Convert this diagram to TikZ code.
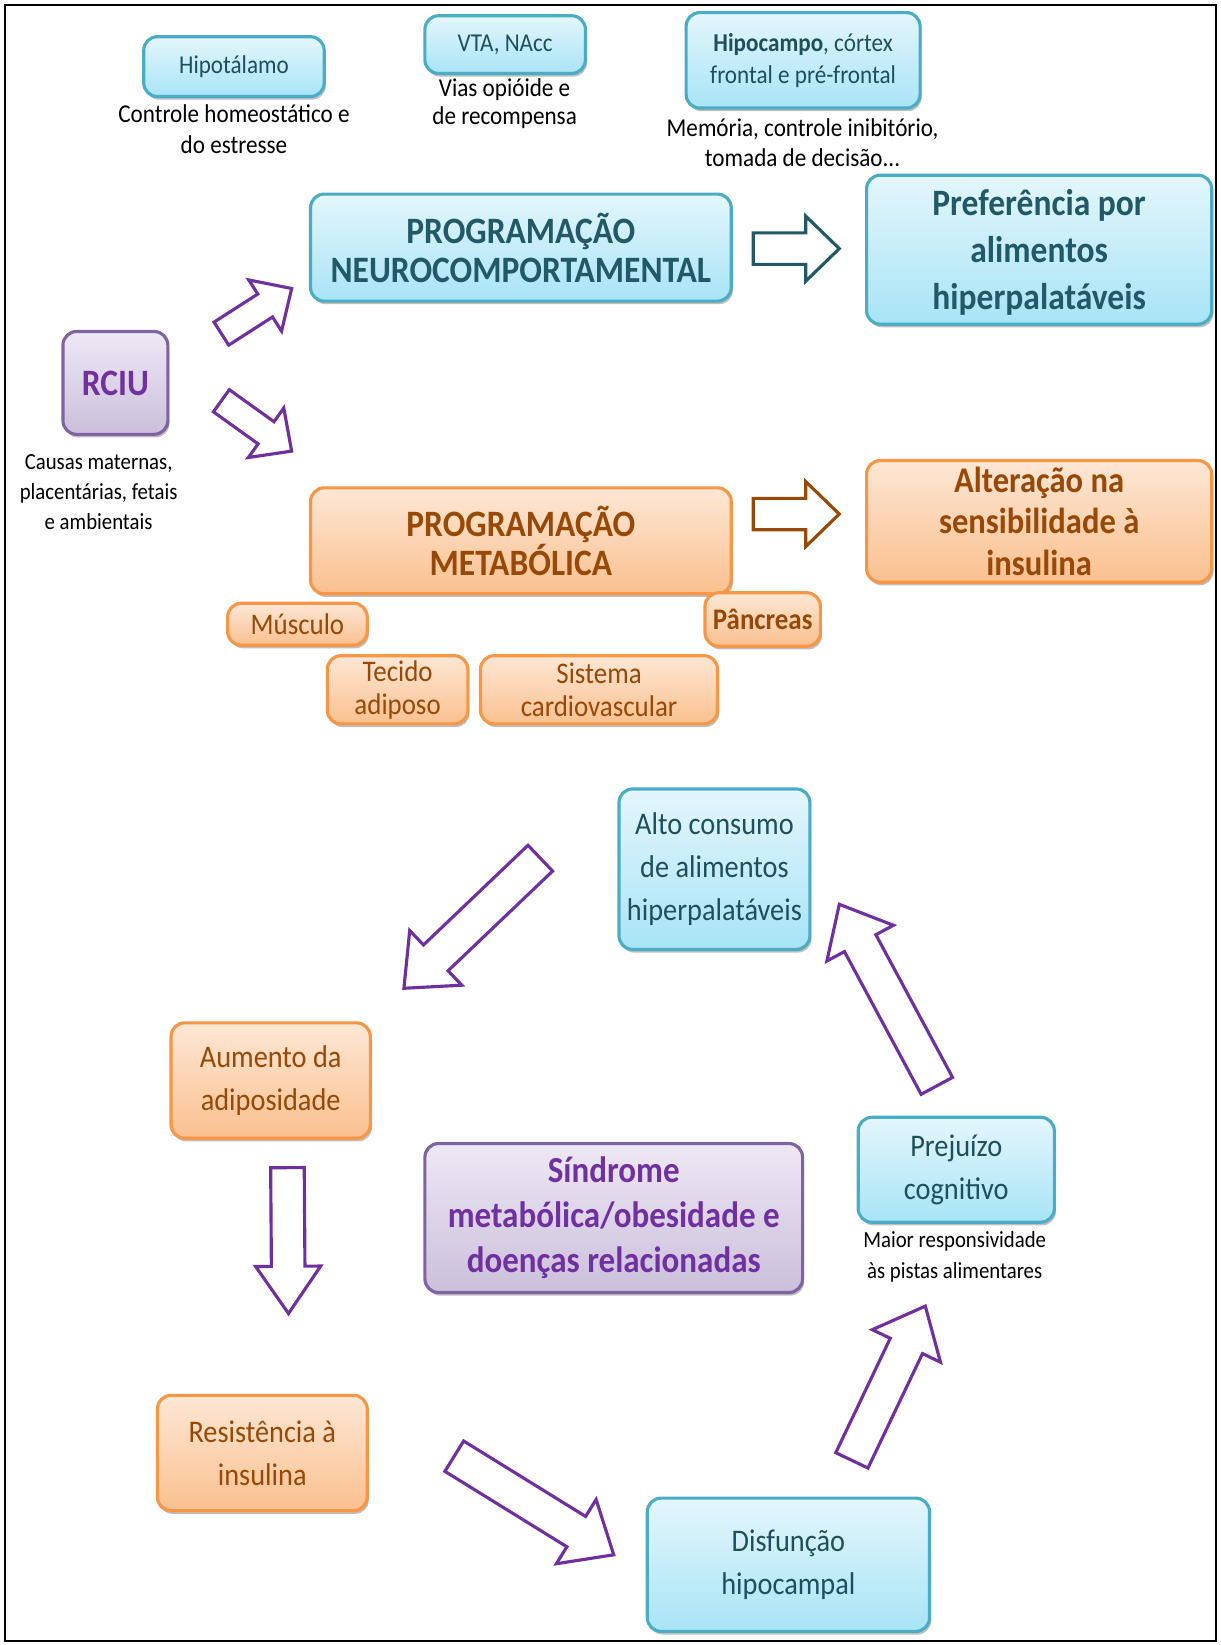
\documentclass[tikz,border=0pt]{standalone}
\usepackage{fontspec}
\setmainfont{Carlito}[FakeStretch=0.9]
\usetikzlibrary{calc,shadows}
\definecolor{bluebd}{HTML}{4BACC6}
\definecolor{bluetop}{HTML}{E4F6FC}
\definecolor{bluebot}{HTML}{A8E4F6}
\definecolor{bluetxt}{HTML}{1F4F5C}
\definecolor{orbd}{HTML}{F79646}
\definecolor{ortop}{HTML}{FDE7D5}
\definecolor{orbot}{HTML}{FAC08F}
\definecolor{ortxt}{HTML}{984807}
\definecolor{purbd}{HTML}{8064A2}
\definecolor{purtop}{HTML}{EEE8F5}
\definecolor{purbot}{HTML}{CBBFDB}
\definecolor{purtxt}{HTML}{7030A0}
\definecolor{arrpur}{HTML}{7030A0}
\definecolor{arrteal}{HTML}{215967}
\definecolor{arrbrown}{HTML}{984807}
\newcommand\blkarrow[6]{%
  \draw[#1] let \p1=($(#3)-(#2)$), \n1={atan2(\y1,\x1)}, \n2={veclen(\x1,\y1)} in
   [shift={(#2)}, rotate=\n1]
   (0,#4) -- (\n2-#6,#4) -- (\n2-#6,#5) -- (\n2,0) -- (\n2-#6,-#5) -- (\n2-#6,-#4) -- (0,-#4) -- cycle;}
\tikzset{
  boxbase/.style={line width=3pt, rounded corners=13pt, align=center, inner sep=0pt,
     drop shadow={shadow xshift=1.5pt, shadow yshift=-3pt, opacity=0.25, fill=black}},
  bluebox/.style={boxbase, draw=bluebd, top color=bluetop, bottom color=bluebot, text=bluetxt},
  orbox/.style={boxbase, draw=orbd, top color=ortop, bottom color=orbot, text=ortxt},
  purbox/.style={boxbase, draw=purbd, top color=purtop, bottom color=purbot, text=purtxt},
  small/.style={font=\fontsize{24.5}{31}\selectfont},
  orsmall/.style={font=\fontsize{28.5}{31}\selectfont},
  caption/.style={align=center, font=\fontsize{24.5}{29}\selectfont, text=black},
  big/.style={font=\fontsize{35.5}{37}\selectfont\bfseries},
  cyc/.style={font=\fontsize{30}{41}\selectfont},
  arrowline/.style={line width=3pt, line join=miter, fill=white},
  purarrow/.style={arrowline, draw=arrpur},
}
\begin{document}
\begin{tikzpicture}[x=1pt,y=-1pt]
\useasboundingbox (0,0) rectangle (1163,1568);
\draw[line width=2pt] (5,5) rectangle (1159,1564);

% top row
\node[bluebox, small, minimum width=172pt, minimum height=57pt] (hipot) at (223,63.5) {Hipotálamo};
\node[bluebox, small, minimum width=153pt, minimum height=55pt] (vta) at (481.5,42.5) {VTA, NAcc};
\node[bluebox, small, minimum width=223pt, minimum height=91pt] (hipoc) at (765.5,57.5) {\textbf{Hipocampo}, córtex\\frontal e pré-frontal};
\node[caption] (capHipot) at (223,123) {Controle homeostático e\\do estresse};
\node[caption, font=\fontsize{24.5}{27}\selectfont] (capVta) at (481,98.5) {Vias opióide e\\de recompensa};
\node[caption, font=\fontsize{24.5}{28}\selectfont] (capHipoc) at (765,136) {Memória, controle inibitório,\\tomada de decisão...};

% main rows
\node[bluebox, big, text=arrteal, minimum width=401pt, minimum height=102pt] (neuro) at (496.5,236) {PROGRAMAÇÃO\\NEUROCOMPORTAMENTAL};
\node[bluebox, text=arrteal, font=\fontsize{35.5}{45}\selectfont\bfseries, minimum width=329pt, minimum height=142pt, text depth=0pt] (pref) at (990.5,238) {Preferência por\\alimentos\\hiperpalatáveis};
\node[purbox, big, minimum width=100pt, minimum height=98pt] (rciu) at (110,365) {RCIU};
\node[caption, font=\fontsize{22}{28.5}\selectfont] (capRciu) at (94,469) {Causas maternas,\\placentárias, fetais\\e ambientais};
\node[orbox, big, minimum width=401pt, minimum height=101pt] (metab) at (496.5,515.5) {PROGRAMAÇÃO\\METABÓLICA};
\node[orbox, font=\fontsize{34.5}{40}\selectfont\bfseries, minimum width=329pt, minimum height=116pt] (alter) at (990.5,497) {Alteração na\\sensibilidade à\\insulina};

\node[orbox, orsmall, minimum width=133pt, minimum height=40pt] (musc) at (283.5,595) {Músculo};
\node[orbox, orsmall, minimum width=110pt, minimum height=51pt] (panc) at (727,590.5) {\textbf{Pâncreas}};
\node[orbox, orsmall, minimum width=134pt, minimum height=65pt] (tec) at (379,657.5) {Tecido\\adiposo};
\node[orbox, orsmall, minimum width=226pt, minimum height=65pt] (sist) at (571,657.5) {Sistema\\cardiovascular};

% arrows top
\coordinate (n1s) at (718,237); \coordinate (n1e) at (800,237);
\coordinate (m1s) at (718,490); \coordinate (m1e) at (800,490);
\coordinate (r1s) at (211,318); \coordinate (r1e) at (278,275);
\coordinate (r2s) at (211,382); \coordinate (r2e) at (278,430);
\blkarrow{arrowline, draw=arrteal}{n1s}{n1e}{15}{31}{32}
\blkarrow{arrowline, draw=arrbrown}{m1s}{m1e}{15}{31}{32}
\blkarrow{purarrow}{r1s}{r1e}{13}{29}{30}
\blkarrow{purarrow}{r2s}{r2e}{13}{29}{30}

% cycle
\node[bluebox, cyc, minimum width=182pt, minimum height=153pt] (alto) at (681,828.5) {Alto consumo\\de alimentos\\hiperpalatáveis};
\node[orbox, cyc, minimum width=190pt, minimum height=110pt] (aum) at (258,1030) {Aumento da\\adiposidade};
\node[purbox, font=\fontsize{35}{43}\selectfont\bfseries, minimum width=360pt, minimum height=142pt] (sind) at (585,1161) {Síndrome\\metabólica/obesidade e\\doenças relacionadas};
\node[bluebox, cyc, minimum width=187pt, minimum height=100pt] (prej) at (911.5,1115) {Prejuízo\\cognitivo};
\node[caption, font=\fontsize{22}{29}\selectfont] (capPrej) at (910,1198) {Maior responsividade\\às pistas alimentares};
\node[orbox, cyc, minimum width=200pt, minimum height=110pt] (resist) at (250,1385) {Resistência à\\insulina};
\node[bluebox, cyc, minimum width=269pt, minimum height=127pt] (disf) at (751.5,1491.5) {Disfunção\\hipocampal};

\coordinate (c1s) at (515,818); \coordinate (c1e) at (385,942);
\coordinate (c2s) at (274,1113); \coordinate (c2e) at (275,1252);
\coordinate (c3s) at (433,1388); \coordinate (c3e) at (585,1482);
\coordinate (c4s) at (812,1392); \coordinate (c4e) at (882,1245);
\coordinate (c5s) at (893,1035); \coordinate (c5e) at (800,862);
\blkarrow{purarrow}{c1s}{c1e}{17}{36}{42}
\blkarrow{purarrow}{c2s}{c2e}{16}{31}{45}
\blkarrow{purarrow}{c3s}{c3e}{17}{36}{42}
\blkarrow{purarrow}{c4s}{c4e}{17}{36}{42}
\blkarrow{purarrow}{c5s}{c5e}{17}{36}{42}
\end{tikzpicture}
\end{document}
